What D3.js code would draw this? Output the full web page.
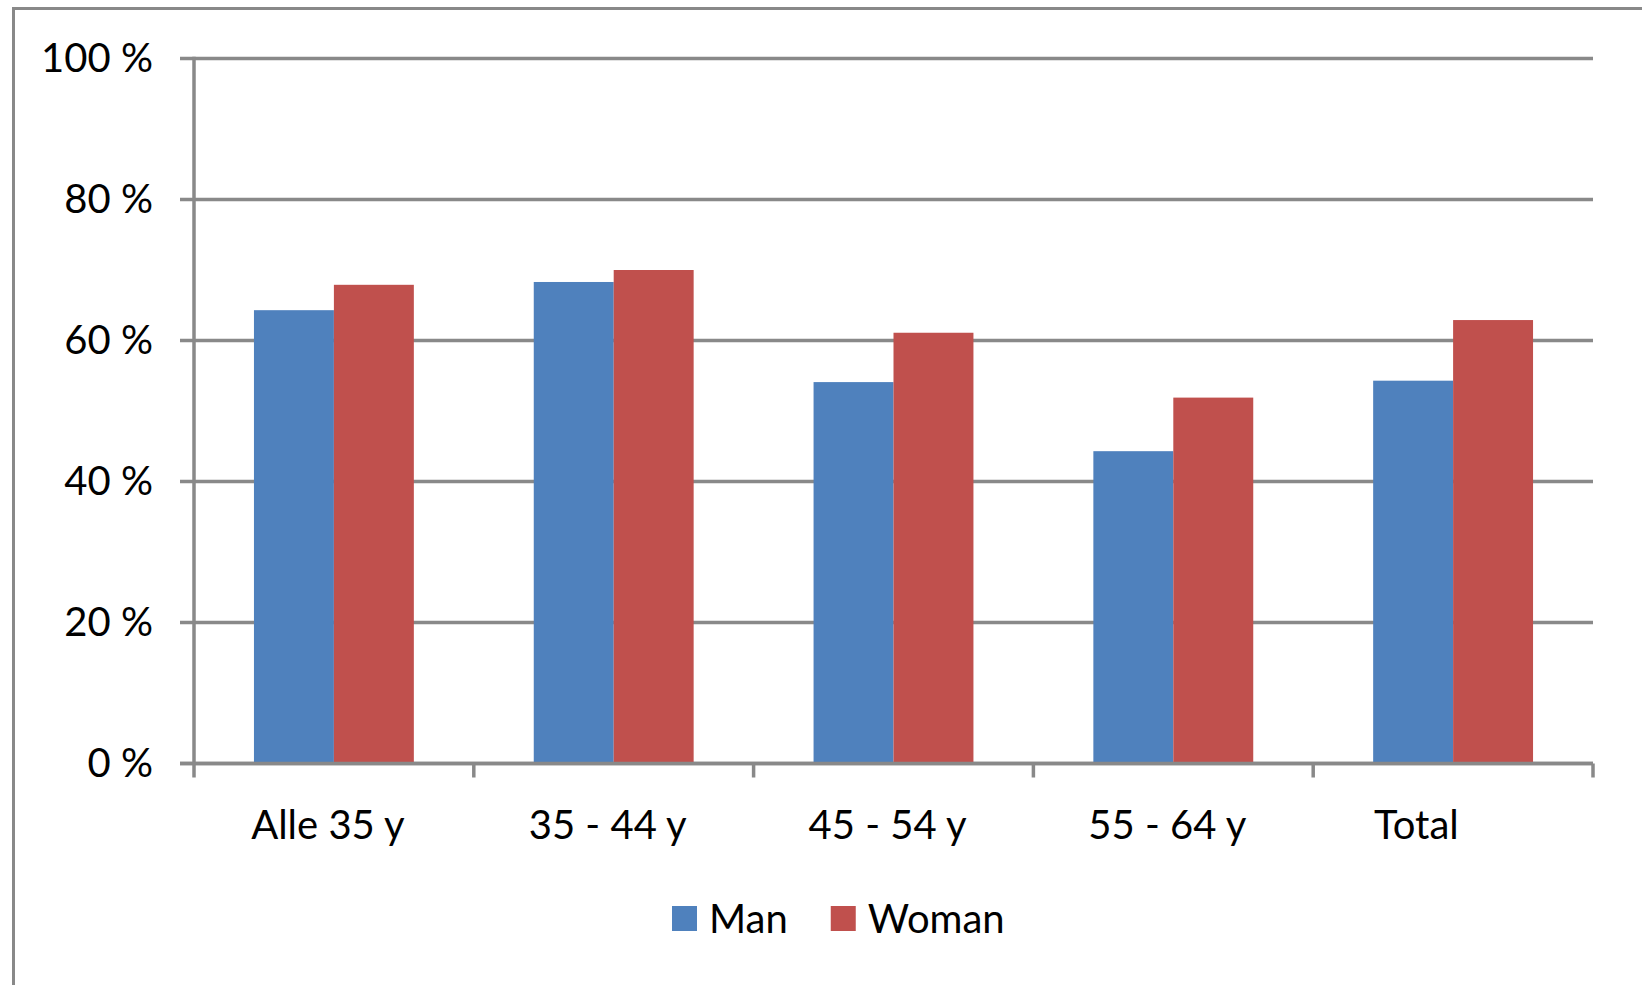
<!DOCTYPE html>
<html>
<head>
<meta charset="utf-8">
<script src="https://cdn.jsdelivr.net/npm/d3@7"></script>
<style>
  html, body { margin: 0; padding: 0; background: #fff; overflow: hidden; }
  svg text { font-family: Lato, "Open Sans", sans-serif; fill: #000; white-space: pre; }
</style>
</head>
<body>
<div id="chart"></div>
<script>
// chart data
// (the "Total" label carries trailing spaces in the source sheet, which pulls it left)
const categories = ["Alle 35 y", "35 - 44 y", "45 - 54 y", "55 - 64 y", "Total\u00a0\u00a0\u00a0\u00a0\u00a0\u00a0"];
const series = ["Man", "Woman"];
const manValues = [64.3, 68.3, 54.1, 44.3, 54.3];
const womanValues = [67.9, 70.0, 61.1, 51.9, 62.9];
const yTicks = [0, 20, 40, 60, 80, 100];

const colors = { Man: "#4F81BD", Woman: "#C0504D" };
const gridColor = "#898989";

const W = 1642, H = 985;
const plot = { left: 194, right: 1593, top: 58.5, bottom: 763.5 };
const fontSize = "40px";

const svg = d3.select("#chart").append("svg")
    .attr("width", W)
    .attr("height", H);

// outer chart border (bottom edge runs off the picture)
svg.append("rect")
    .attr("x", 13.5)
    .attr("y", 8.5)
    .attr("width", 1630)
    .attr("height", 1000)
    .attr("fill", "#fff")
    .attr("stroke", gridColor)
    .attr("stroke-width", 3);

const y = d3.scaleLinear().domain([0, 100]).range([plot.bottom, plot.top]);

const x0 = d3.scaleBand()
    .domain(categories)
    .range([plot.left, plot.right])
    .paddingInner(0)
    .paddingOuter(0);

const x1 = d3.scaleBand()
    .domain(series)
    .range([0, x0.bandwidth()])
    .paddingInner(0)
    .paddingOuter(0.75);

// gridlines
svg.append("g")
    .selectAll("line")
    .data(yTicks)
    .enter()
    .append("line")
    .attr("x1", plot.left - 14)
    .attr("x2", plot.right)
    .attr("y1", d => y(d))
    .attr("y2", d => y(d))
    .attr("stroke", gridColor)
    .attr("stroke-width", 3.5);

// y axis labels
const yAxis = d3.axisLeft(y)
    .tickValues(yTicks)
    .tickFormat(d => d + " %")
    .tickSize(0)
    .tickPadding(41);

const yg = svg.append("g")
    .attr("transform", `translate(${plot.left},0)`)
    .call(yAxis);
yg.select(".domain").remove();
yg.selectAll("text")
    .style("font-size", fontSize)
    .attr("dy", "0.33em");

// bars
const rows = categories.map((c, i) => ({ cat: c, Man: manValues[i], Woman: womanValues[i] }));

const groups = svg.append("g")
    .selectAll("g")
    .data(rows)
    .enter()
    .append("g")
    .attr("transform", d => `translate(${x0(d.cat)},0)`);

groups.selectAll("rect")
    .data(d => series.map(s => ({ key: s, value: d[s] })))
    .enter()
    .append("rect")
    .attr("x", d => x1(d.key))
    .attr("y", d => y(d.value))
    .attr("width", x1.bandwidth())
    .attr("height", d => y(0) - y(d.value))
    .attr("fill", d => colors[d.key]);

// y axis line
svg.append("line")
    .attr("x1", plot.left)
    .attr("x2", plot.left)
    .attr("y1", plot.top - 1.75)
    .attr("y2", plot.bottom)
    .attr("stroke", gridColor)
    .attr("stroke-width", 3.5);

// x axis line + category boundary ticks
svg.append("line")
    .attr("x1", plot.left - 14)
    .attr("x2", plot.right)
    .attr("y1", y(0))
    .attr("y2", y(0))
    .attr("stroke", gridColor)
    .attr("stroke-width", 3.5);

const boundaries = categories.map(c => x0(c)).concat([plot.right]);
svg.append("g")
    .selectAll("line")
    .data(boundaries)
    .enter()
    .append("line")
    .attr("x1", d => d)
    .attr("x2", d => d)
    .attr("y1", y(0))
    .attr("y2", y(0) + 14)
    .attr("stroke", gridColor)
    .attr("stroke-width", 3.5);

// x labels
const xAxis = d3.axisBottom(x0).tickSize(0).tickPadding(0);
const xg = svg.append("g")
    .attr("transform", `translate(-6,${y(0)})`)
    .call(xAxis);
xg.select(".domain").remove();
xg.selectAll("text")
    .style("font-size", fontSize)
    .attr("dy", null)
    .attr("y", 75);

// legend
const legend = svg.append("g").attr("transform", "translate(672,906)");
let lx = 0;
series.forEach(s => {
    legend.append("rect")
        .attr("x", lx)
        .attr("y", 0)
        .attr("width", 25)
        .attr("height", 25)
        .attr("fill", colors[s]);
    const t = legend.append("text")
        .attr("x", lx + 37)
        .attr("y", 27)
        .style("font-size", fontSize)
        .text(s);
    lx += 37 + t.node().getComputedTextLength() + 43;
});
</script>
</body>
</html>
